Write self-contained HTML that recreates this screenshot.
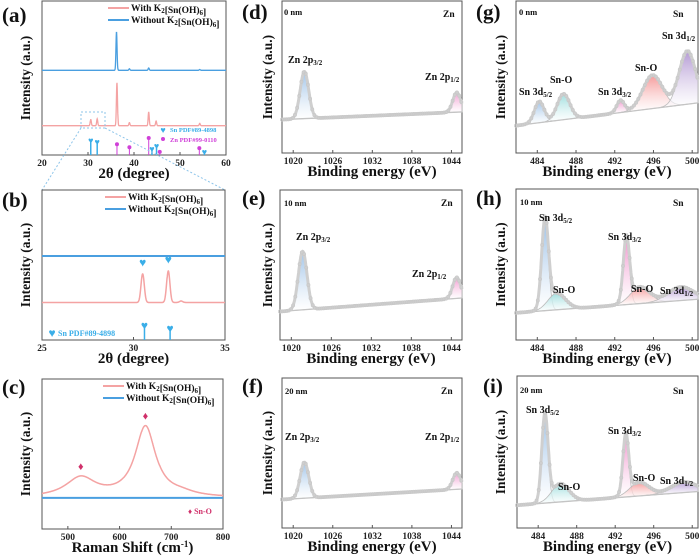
<!DOCTYPE html>
<html><head><meta charset="utf-8">
<style>
html,body{margin:0;padding:0;background:#fff;}
svg{display:block;font-family:"Liberation Serif",serif;font-weight:bold;}
</style></head>
<body>
<svg id="fig" width="700" height="557" viewBox="0 0 700 557" xmlns="http://www.w3.org/2000/svg">
<defs id="defs"></defs>
</svg>
<script>
// ---------- DATA ----------
// (a) XRD wide
const xrdATicks = [20, 30, 40, 50, 60];
const xrdAWithPos = [30.6, 32.0, 36.3, 39.0, 43.2, 44.8, 54.3];
const xrdAWithH = [0.04, 0.045, 0.28, 0.02, 0.09, 0.03, 0.015];
const xrdAWithBase = 0.19;
const xrdAWithoutPos = [36.2, 39.0, 43.2, 54.3];
const xrdAWithoutH = [0.25, 0.01, 0.015, 0.005];
const xrdAWithoutBase = 0.55;
const snRefPos = [30.6, 32.0, 43.9, 44.9, 55.3];
const snRefH = [0.10, 0.09, 0.045, 0.065, 0.025];
const znRefPos = [36.3, 39.0, 43.2, 45.6, 54.2];
const znRefH = [0.05, 0.03, 0.09, 0.0, 0.025];
// (b) XRD zoom
const xrdBTicks = [25, 30, 35];
const xrdBWithPos = [30.5, 31.9, 32.6];
const xrdBWithH = [0.19, 0.21, 0.01];
const xrdBWithBase = 0.25;
const xrdBWithoutBase = 0.56;
const snRefBPos = [30.6, 32.0];
const snRefBH = [0.09, 0.07];
// (c) Raman
const ramanTicks = [500, 600, 700, 800];
const ramanCenters = [525, 650, 720];
const ramanHeights = [0.13, 0.47, 0.02];
const ramanWidths = [35, 24, 30];
const ramanBase = 0.207;
const ramanMarks = [525, 650];
// XPS Zn
const znTicks = [1020, 1026, 1032, 1038, 1044];
const znCenters = [1021.7, 1044.8];
const dHeights = [0.31, 0.13];
const dBase = [0.22, 0.27];
const eHeights = [0.39, 0.14];
const eBase = [0.19, 0.28];
const fHeights = [0.24, 0.11];
const fBase = [0.19, 0.26];
const znWidths = [0.65, 0.6];
// XPS Sn
const snTicks = [484, 488, 492, 496, 500];
const gCenters = [484.2, 486.7, 492.6, 495.9, 499.5];
const gHeights = [0.14, 0.17, 0.08, 0.22, 0.35];
const gWidths = [0.5, 0.65, 0.4, 1.0, 0.85];
const gBase = [0.18, 0.33];
const hCenters = [484.8, 486.0, 493.2, 494.6, 498.8];
const hHeights = [0.58, 0.11, 0.42, 0.11, 0.09];
const hWidths = [0.35, 0.9, 0.32, 1.0, 1.3];
const hBase = [0.18, 0.27];
const iCenters = [484.7, 486.3, 493.1, 494.5, 499.1];
const iHeights = [0.57, 0.12, 0.39, 0.09, 0.07];
const iWidths = [0.33, 0.9, 0.3, 1.0, 1.3];
const iBase = [0.15, 0.24];

// ---------- HELPERS ----------
const NS = "http://www.w3.org/2000/svg";
const svg = document.getElementById('fig');
const defs = document.getElementById('defs');
function el(tag, attrs, parent) {
  const e = document.createElementNS(NS, tag);
  for (const k in attrs) e.setAttribute(k, attrs[k]);
  (parent || svg).appendChild(e);
  return e;
}
function X(p, v) { return p.x0 + (v - p.d0) / (p.d1 - p.d0) * (p.x1 - p.x0); }
function Y(p, f) { return p.y1 - f * (p.y1 - p.y0); }
function gauss(x, c, h, w) { return h * Math.exp(-0.5 * ((x - c) / w) ** 2); }
function lor(x, c, h, w) { return h / (1 + ((x - c) / w) ** 2); }
function pathFrom(pts) { return pts.map((q, i) => (i ? 'L' : 'M') + q[0].toFixed(1) + ',' + q[1].toFixed(1)).join(''); }

const gradColors = { blue: '#9fc3e8', cyan: '#9fdede', pink: '#f29ad0', salmon: '#f59a9a', purple: '#b49ad4' };
for (const k in gradColors) {
  const g = el('linearGradient', { id: 'g-' + k, x1: 0, y1: 0, x2: 0, y2: 1 }, defs);
  el('stop', { offset: '0', 'stop-color': gradColors[k] }, g);
  el('stop', { offset: '1', 'stop-color': '#ffffff', 'stop-opacity': '0.6' }, g);
}

function frame(p, name, letter, lx, ly, ticks, xtitle, ytx) {
  const grp = el('g', {});
  
  
  const r = el('rect', { x: p.x0, y: p.y0, width: p.x1 - p.x0, height: p.y1 - p.y0, fill: 'none', stroke: '#555', 'stroke-width': 1 }, grp);
  
  
  ticks.forEach(t => {
    const x = X(p, t);
    el('line', { x1: x, x2: x, y1: p.y1, y2: p.y1 - 3, stroke: '#555' }, grp);
    const tl = el('text', { x: x, y: p.y1 + 11, 'font-size': 9.5, 'text-anchor': 'middle', fill: '#222' }, grp);
    tl.textContent = t;
    
    
  });
  const xt = el('text', { x: (p.x0 + p.x1) / 2, y: p.y1 + 23, 'font-size': 15, 'text-anchor': 'middle', fill: '#111' }, grp);
  xt.innerHTML = xtitle;
  
  
  const cy = (p.y0 + p.y1) / 2;
  const yt = el('text', { x: ytx, y: cy, 'font-size': 13.5, 'text-anchor': 'middle', transform: 'rotate(-90 ' + ytx + ' ' + cy + ')', fill: '#111' }, grp);
  yt.textContent = 'Intensity (a.u.)';
  
  
  const lt = el('text', { x: lx, y: ly, 'font-size': 21, fill: '#111' }, grp);
  lt.textContent = letter;
  
  
  return grp;
}
function label(grp, x, y, html, size, color, name) {
  const t = el('text', { x: x, y: y, 'font-size': size || 9.5, fill: color || '#111' }, grp);
  t.innerHTML = html;
  
  
  return t;
}
const sub = s => '<tspan font-size="7" dy="2">' + s + '</tspan><tspan dy="-2"></tspan>';
const KSN = 'K' + sub('2') + '[Sn(OH)' + sub('6') + ']';

function legend(grp, x, y) {
  el('line', { x1: x, x2: x + 21, y1: y - 3, y2: y - 3, stroke: '#f4a3a3', 'stroke-width': 2 }, grp);
  label(grp, x + 23, y, 'With ' + KSN, 9.5, '#111', 'legend-entry-with');
  el('line', { x1: x, x2: x + 21, y1: y + 9, y2: y + 9, stroke: '#4a9fe0', 'stroke-width': 2 }, grp);
  label(grp, x + 23, y + 12, 'Without ' + KSN, 9.5, '#111', 'legend-entry-without');
}
function curve(grp, p, base, centers, heights, width, fn, color, sw, name) {
  const pts = [];
  const n = 900;
  for (let i = 0; i <= n; i++) {
    const v = p.d0 + (p.d1 - p.d0) * i / n;
    let f = base;
    centers.forEach((c, k) => { f += fn(v, c, heights[k], Array.isArray(width) ? width[k] : width); });
    pts.push([X(p, v), Y(p, f)]);
  }
  const pa = el('path', { d: pathFrom(pts), fill: 'none', stroke: color, 'stroke-width': sw }, grp);
  
  
}
function heart(grp, x, y, color, s) {
  const t = el('text', { x: x, y: y, 'font-size': s || 11, 'text-anchor': 'middle', fill: color }, grp);
  t.textContent = '♥';
  
  
}

// ---------- (a) ----------
const pA = { x0: 42, x1: 226, y0: 1, y1: 155, d0: 20, d1: 60 };
const gA = frame(pA, 'panel-a', '(a)', 2, 22, xrdATicks, '2θ (degree)', 30);
curve(gA, pA, xrdAWithoutBase, xrdAWithoutPos, xrdAWithoutH, 0.12, gauss, '#4a9fe0', 1.3, 'series-without');
curve(gA, pA, xrdAWithBase, xrdAWithPos, xrdAWithH, 0.12, gauss, '#f4a3a3', 1.3, 'series-with');
snRefPos.forEach((v, k) => {
  const x = X(pA, v), yt = Y(pA, snRefH[k]);
  const s = el('line', { x1: x, x2: x, y1: pA.y1, y2: yt, stroke: '#3aaee8', 'stroke-width': 1.5 }, gA);
  
  
  heart(gA, x, yt + 4, '#3aaee8', 9);
});
znRefPos.forEach((v, k) => {
  const x = X(pA, v), yt = Y(pA, znRefH[k] + 0.02);
  const s = el('line', { x1: x, x2: x, y1: pA.y1, y2: yt, stroke: '#d040d8', 'stroke-width': 1 }, gA);
  
  
  const c = el('circle', { cx: x, cy: yt, r: 2, fill: '#d040d8' }, gA);
  
  
});
heart(gA, 163, 133, '#3aaee8', 9);
label(gA, 170, 132, 'Sn PDF#89-4898', 6.5, '#3aaee8', 'sn-ref-legend');
el('circle', { cx: 163, cy: 139, r: 2, fill: '#d040d8' }, gA);
label(gA, 170, 142, 'Zn PDF#99-0110', 6.5, '#d040d8', 'zn-ref-legend');
legend(gA, 108, 11);
el('rect', { x: 81, y: 112, width: 24, height: 16, fill: 'none', stroke: '#8cc4ea', 'stroke-dasharray': '2,2' }, gA);
el('line', { x1: 81, y1: 128, x2: 42, y2: 190, stroke: '#8cc4ea', 'stroke-dasharray': '2,2' }, gA);
el('line', { x1: 105, y1: 128, x2: 225, y2: 190, stroke: '#8cc4ea', 'stroke-dasharray': '2,2' }, gA);

// ---------- (b) ----------
const pB = { x0: 42, x1: 225, y0: 190, y1: 340, d0: 25, d1: 35 };
const gB = frame(pB, 'panel-b', '(b)', 2, 207, xrdBTicks, '2θ (degree)', 30);
curve(gB, pB, xrdBWithoutBase, [], [], 0.1, gauss, '#4a9fe0', 2, 'series-without');
curve(gB, pB, xrdBWithBase, xrdBWithPos, xrdBWithH, 0.09, gauss, '#f4a3a3', 1.5, 'series-with');
xrdBWithPos.slice(0, 2).forEach((v, k) => heart(gB, X(pB, v), Y(pB, xrdBWithBase + xrdBWithH[k] + 0.05), '#3aaee8', 12));
snRefBPos.forEach((v, k) => {
  const x = X(pB, v), yt = Y(pB, snRefBH[k]);
  const s = el('line', { x1: x, x2: x, y1: pB.y1, y2: yt, stroke: '#3aaee8', 'stroke-width': 1.5 }, gB);
  
  
  heart(gB, x, yt + 3, '#3aaee8', 12);
});
heart(gB, 52, 337, '#3aaee8', 12);
label(gB, 58, 336, 'Sn PDF#89-4898', 8, '#3aaee8', 'sn-ref-legend');
legend(gB, 105, 200);

// ---------- (c) ----------
const pC = { x0: 42, x1: 223, y0: 379, y1: 529, d0: 450, d1: 800 };
const gC = frame(pC, 'panel-c', '(c)', 2, 394, ramanTicks, 'Raman Shift (cm<tspan font-size="9" dy="-5">-1</tspan><tspan dy="5">)</tspan>', 30);
curve(gC, pC, ramanBase, [], [], 1, lor, '#4a9fe0', 2, 'series-without');
curve(gC, pC, ramanBase, ramanCenters, ramanHeights, ramanWidths, lor, '#f4a3a3', 1.5, 'series-with');
ramanMarks.forEach((v) => {
  let f = ramanBase;
  ramanCenters.forEach((c, k) => { f += lor(v, c, ramanHeights[k], ramanWidths[k]); });
  const m = el('text', { x: X(pC, v), y: Y(pC, f) - 6, 'font-size': 11, 'text-anchor': 'middle', fill: '#d0306a' }, gC);
  m.textContent = '♦';
  
  
});
label(gC, 188, 514, '♦ Sn-O', 8, '#d0306a', 'sn-o-legend');
legend(gC, 103, 389);

// ---------- XPS ----------
function xps(p, grp, centers, heights, widths, base, colors) {
  const bl = v => base[0] + (base[1] - base[0]) * (v - p.d0) / (p.d1 - p.d0);
  centers.forEach((c, k) => {
    const pts = [], bpts = [];
    const a = Math.max(p.d0, c - 3.2 * widths[k]), b = Math.min(p.d1, c + 3.2 * widths[k]);
    for (let i = 0; i <= 60; i++) {
      const v = a + (b - a) * i / 60;
      pts.push([X(p, v), Y(p, bl(v) + gauss(v, c, heights[k], widths[k]))]);
      bpts.unshift([X(p, v), Y(p, bl(v))]);
    }
    const f = el('path', { d: pathFrom(pts.concat(bpts)) + 'Z', fill: 'url(#g-' + colors[k] + ')', stroke: '#bbb', 'stroke-width': 0.8 }, grp);
    
    
  });
  const bline = el('line', { x1: p.x0, y1: Y(p, base[0]), x2: p.x1, y2: Y(p, base[1]), stroke: '#c4c4c4', 'stroke-width': 1.3 }, grp);
  
  
  const env = [];
  for (let i = 0; i <= 500; i++) {
    const v = p.d0 + (p.d1 - p.d0) * i / 500;
    let f = bl(v);
    centers.forEach((c, k) => { f += gauss(v, c, heights[k], widths[k]); });
    env.push([X(p, v), Y(p, f)]);
  }
  const e = el('path', { d: pathFrom(env), fill: 'none', stroke: '#cfcfcf', 'stroke-width': 3 }, grp);
  
  
  for (let i = 0; i < env.length; i += 6) {
    el('circle', { cx: env[i][0], cy: env[i][1], r: 1.6, fill: 'none', stroke: '#c8c8c8', 'stroke-width': 0.7 }, grp);
  }
}
const zc = ['blue', 'pink'];
const sc = ['blue', 'cyan', 'pink', 'salmon', 'purple'];
const P32 = 'Zn 2p' + sub('3/2'), P12 = 'Zn 2p' + sub('1/2');
const D52 = 'Sn 3d' + sub('5/2'), D32 = 'Sn 3d' + sub('3/2'), D12 = 'Sn 3d' + sub('1/2');
const BE = 'Binding energy (eV)';

const pD = { x0: 282, x1: 462, y0: 1, y1: 153, d0: 1018.3, d1: 1045.6 };
const gD = frame(pD, 'panel-d', '(d)', 242, 19, znTicks, BE, 272);
xps(pD, gD, znCenters, dHeights, znWidths, dBase, zc);
label(gD, 284, 15, '0 nm', 8.5); label(gD, 443, 17, 'Zn', 9.5);
label(gD, 288, 63, P32, 10); label(gD, 425, 80, P12, 10);

const pE = { x0: 280, x1: 462, y0: 190, y1: 340, d0: 1018.3, d1: 1045.6 };
const gE = frame(pE, 'panel-e', '(e)', 242, 205, znTicks, BE, 272);
xps(pE, gE, znCenters, eHeights, znWidths, eBase, zc);
label(gE, 284, 206, '10 nm', 8.5); label(gE, 441, 206, 'Zn', 9.5);
label(gE, 296, 240, P32, 10); label(gE, 412, 277, P12, 10);

const pF = { x0: 282, x1: 462, y0: 378, y1: 528, d0: 1018.3, d1: 1045.6 };
const gF = frame(pF, 'panel-f', '(f)', 242, 393, znTicks, BE, 272);
xps(pF, gF, znCenters, fHeights, znWidths, fBase, zc);
label(gF, 285, 394, '20 nm', 8.5); label(gF, 441, 394, 'Zn', 9.5);
label(gF, 285, 440, P32, 10); label(gF, 425, 440, P12, 10);

const pG = { x0: 516, x1: 698, y0: 1, y1: 153, d0: 481.8, d1: 500.6 };
const gG = frame(pG, 'panel-g', '(g)', 476, 19, snTicks, BE, 505);
xps(pG, gG, gCenters, gHeights, gWidths, gBase, sc);
label(gG, 519, 15, '0 nm', 8.5); label(gG, 673, 17, 'Sn', 9.5);
label(gG, 519, 95, D52, 10); label(gG, 550, 83, 'Sn-O', 10);
label(gG, 598, 95, D32, 10); label(gG, 635, 71, 'Sn-O', 10); label(gG, 662, 39, D12, 10);

const pH = { x0: 516, x1: 698, y0: 189, y1: 340, d0: 481.8, d1: 500.6 };
const gH = frame(pH, 'panel-h', '(h)', 476, 205, snTicks, BE, 505);
xps(pH, gH, hCenters, hHeights, hWidths, hBase, sc);
label(gH, 520, 205, '10 nm', 8.5); label(gH, 673, 206, 'Sn', 9.5);
label(gH, 539, 221, D52, 10); label(gH, 553, 293, 'Sn-O', 10);
label(gH, 608, 240, D32, 10); label(gH, 631, 292, 'Sn-O', 10); label(gH, 660, 294, D12, 10);

const pI = { x0: 517, x1: 698, y0: 376, y1: 528, d0: 481.8, d1: 500.6 };
const gI = frame(pI, 'panel-i', '(i)', 483, 393, snTicks, BE, 505);
xps(pI, gI, iCenters, iHeights, iWidths, iBase, sc);
label(gI, 520, 393, '20 nm', 8.5); label(gI, 673, 394, 'Sn', 9.5);
label(gI, 526, 413, D52, 10); label(gI, 558, 490, 'Sn-O', 10);
label(gI, 608, 434, D32, 10); label(gI, 633, 481, 'Sn-O', 10); label(gI, 660, 484, D12, 10);
</script>
</body></html>
